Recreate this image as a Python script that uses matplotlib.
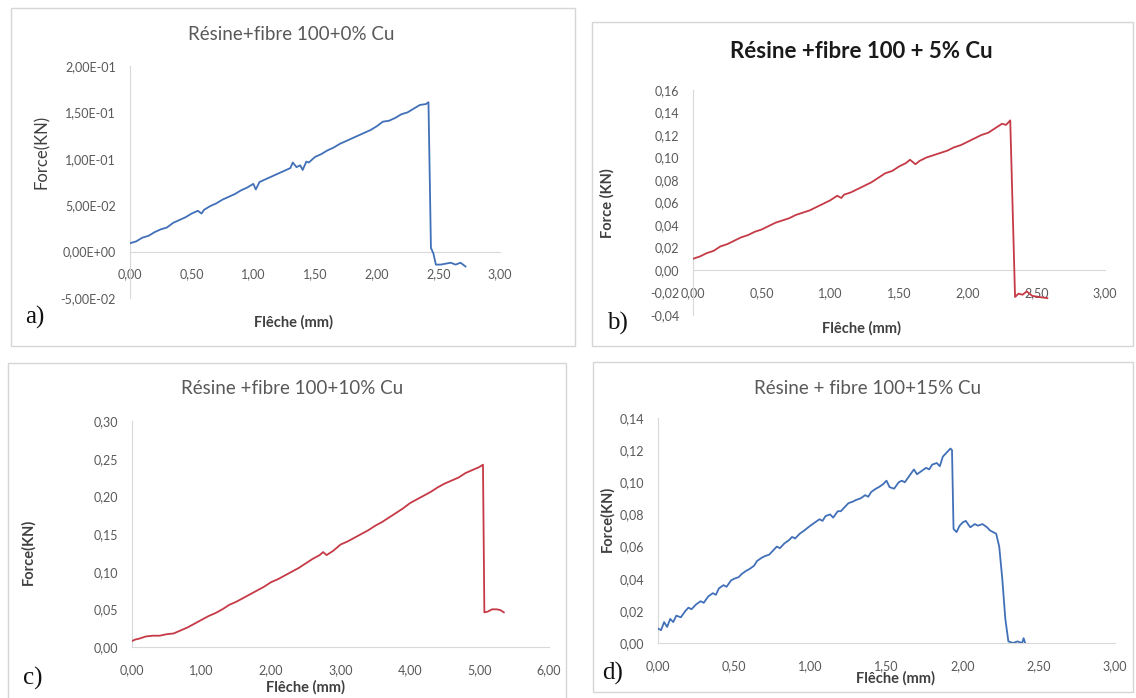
import matplotlib
matplotlib.use("Agg")
import matplotlib.pyplot as plt
from matplotlib.patches import Rectangle
from matplotlib.ticker import FuncFormatter

W, H = 1136, 698

titles = ["Résine+fibre 100+0% Cu", "Résine +fibre 100 + 5% Cu",
          "Résine +fibre 100+10% Cu", "Résine + fibre 100+15% Cu"]
ylabels = ["Force(KN)", "Force (KN)", "Force(KN)", "Force(KN)"]
letters = ["a)", "b)", "c)", "d)"]

x_a = [0.00, 0.05, 0.10, 0.15, 0.20, 0.25, 0.30, 0.35, 0.40, 0.45, 0.50, 0.55, 0.58,
       0.60, 0.65, 0.70, 0.75, 0.80, 0.85, 0.90, 0.95, 1.00, 1.02, 1.05, 1.10, 1.15,
       1.20, 1.25, 1.30, 1.32, 1.35, 1.38, 1.40, 1.43, 1.45, 1.50, 1.55, 1.60, 1.65,
       1.70, 1.75, 1.80, 1.85, 1.90, 1.95, 2.00, 2.05, 2.10, 2.15, 2.20, 2.25, 2.30,
       2.35, 2.40, 2.42, 2.44, 2.46, 2.48, 2.52, 2.56, 2.60, 2.64, 2.68, 2.72]
y_a = [0.009, 0.011, 0.015, 0.017, 0.021, 0.024, 0.026, 0.031, 0.034, 0.037, 0.041, 0.044, 0.041,
       0.045, 0.049, 0.052, 0.056, 0.059, 0.062, 0.066, 0.069, 0.073, 0.067, 0.075, 0.078, 0.081,
       0.084, 0.087, 0.090, 0.096, 0.091, 0.093, 0.088, 0.097, 0.096, 0.102, 0.105, 0.109, 0.112,
       0.116, 0.119, 0.122, 0.125, 0.128, 0.131, 0.135, 0.140, 0.141, 0.144, 0.148, 0.150, 0.154,
       0.158, 0.159, 0.161, 0.004, -0.002, -0.014, -0.014, -0.013, -0.012, -0.014, -0.012, -0.016]

x_b = [0.00, 0.05, 0.10, 0.15, 0.20, 0.25, 0.30, 0.35, 0.40, 0.45, 0.50, 0.55, 0.60, 0.65,
       0.70, 0.75, 0.80, 0.85, 0.90, 0.95, 1.00, 1.05, 1.08, 1.10, 1.15, 1.20, 1.25, 1.30,
       1.35, 1.40, 1.45, 1.50, 1.55, 1.58, 1.62, 1.65, 1.70, 1.75, 1.80, 1.85, 1.90, 1.95,
       2.00, 2.05, 2.10, 2.15, 2.20, 2.25, 2.28, 2.31, 2.345, 2.37, 2.40, 2.43, 2.47, 2.52, 2.58]
y_b = [0.010, 0.012, 0.015, 0.017, 0.021, 0.023, 0.026, 0.029, 0.031, 0.034, 0.036, 0.039, 0.042, 0.044,
       0.046, 0.049, 0.051, 0.053, 0.056, 0.059, 0.062, 0.066, 0.064, 0.067, 0.069, 0.072, 0.075, 0.078,
       0.082, 0.086, 0.088, 0.092, 0.095, 0.098, 0.094, 0.097, 0.100, 0.102, 0.104, 0.106, 0.109, 0.111,
       0.114, 0.117, 0.120, 0.122, 0.126, 0.130, 0.129, 0.133, -0.024, -0.021, -0.022, -0.019, -0.023, -0.024, -0.025]

x_c = [0.00, 0.05, 0.10, 0.20, 0.30, 0.40, 0.50, 0.60, 0.70, 0.80, 0.90, 1.00, 1.10, 1.20,
       1.30, 1.40, 1.50, 1.60, 1.70, 1.80, 1.90, 2.00, 2.10, 2.20, 2.30, 2.40, 2.50, 2.60,
       2.70, 2.75, 2.80, 2.90, 3.00, 3.10, 3.20, 3.30, 3.40, 3.50, 3.60, 3.70, 3.80, 3.90,
       4.00, 4.10, 4.20, 4.30, 4.40, 4.50, 4.60, 4.70, 4.80, 4.90, 5.00, 5.05, 5.07, 5.12,
       5.18, 5.25, 5.30, 5.35]
y_c = [0.008, 0.010, 0.011, 0.014, 0.015, 0.015, 0.017, 0.018, 0.022, 0.026, 0.031, 0.036, 0.041, 0.045,
       0.050, 0.056, 0.060, 0.065, 0.070, 0.075, 0.080, 0.086, 0.090, 0.095, 0.100, 0.105, 0.111, 0.117,
       0.122, 0.126, 0.122, 0.128, 0.136, 0.140, 0.145, 0.150, 0.155, 0.161, 0.166, 0.172, 0.178, 0.184,
       0.191, 0.196, 0.201, 0.206, 0.212, 0.217, 0.221, 0.225, 0.231, 0.235, 0.239, 0.242, 0.046, 0.047,
       0.050, 0.050, 0.049, 0.046]

x_d = [0.00, 0.02, 0.04, 0.06, 0.08, 0.10, 0.12, 0.15, 0.18, 0.20, 0.22, 0.25, 0.28, 0.30,
       0.33, 0.36, 0.38, 0.40, 0.43, 0.45, 0.48, 0.50, 0.53, 0.55, 0.58, 0.60, 0.63, 0.65,
       0.68, 0.70, 0.73, 0.76, 0.78, 0.80, 0.83, 0.86, 0.88, 0.90, 0.93, 0.96, 1.00, 1.03,
       1.06, 1.08, 1.10, 1.13, 1.15, 1.18, 1.20, 1.23, 1.25, 1.28, 1.30, 1.33, 1.36, 1.38,
       1.40, 1.43, 1.45, 1.48, 1.50, 1.52, 1.55, 1.58, 1.60, 1.62, 1.65, 1.68, 1.70, 1.73,
       1.76, 1.78, 1.80, 1.83, 1.85, 1.87, 1.90, 1.92, 1.93, 1.94, 1.96, 1.98, 2.00, 2.02,
       2.05, 2.08, 2.10, 2.13, 2.16, 2.18, 2.22, 2.24, 2.26, 2.28, 2.30, 2.33, 2.36, 2.39,
       2.40, 2.41]
y_d = [0.009, 0.008, 0.013, 0.010, 0.015, 0.013, 0.017, 0.016, 0.020, 0.022, 0.021, 0.024, 0.026, 0.025,
       0.029, 0.031, 0.030, 0.034, 0.036, 0.035, 0.039, 0.040, 0.041, 0.043, 0.045, 0.046, 0.048, 0.051,
       0.053, 0.054, 0.055, 0.058, 0.060, 0.059, 0.062, 0.064, 0.066, 0.065, 0.068, 0.070, 0.073, 0.075,
       0.077, 0.076, 0.079, 0.080, 0.078, 0.082, 0.082, 0.085, 0.087, 0.088, 0.089, 0.090, 0.092, 0.091,
       0.094, 0.096, 0.097, 0.099, 0.101, 0.097, 0.096, 0.100, 0.101, 0.100, 0.104, 0.108, 0.105, 0.107,
       0.109, 0.108, 0.111, 0.112, 0.110, 0.116, 0.119, 0.121, 0.120, 0.071, 0.069, 0.073, 0.075, 0.076,
       0.072, 0.074, 0.073, 0.074, 0.072, 0.070, 0.068, 0.060, 0.040, 0.015, 0.001, 0.000, 0.001, 0.000,
       0.003, 0.000]

xticks = [[0, 0.5, 1, 1.5, 2, 2.5, 3], [0, 0.5, 1, 1.5, 2, 2.5, 3],
          [0, 1, 2, 3, 4, 5, 6], [0, 0.5, 1, 1.5, 2, 2.5, 3]]
yticks = [[-0.05, 0, 0.05, 0.10, 0.15, 0.20],
          [-0.04, -0.02, 0, 0.02, 0.04, 0.06, 0.08, 0.10, 0.12, 0.14, 0.16],
          [0, 0.05, 0.10, 0.15, 0.20, 0.25, 0.30],
          [0, 0.02, 0.04, 0.06, 0.08, 0.10, 0.12, 0.14]]

BLUE = "#4170b8"
RED = "#c53a46"
series = [(x_a, y_a, BLUE), (x_b, y_b, RED), (x_c, y_c, RED), (x_d, y_d, BLUE)]

# ---- layout in pixels (left, right, top, bottom) ----
ax_px = [(130, 500, 66, 298), (693, 1105, 90, 315), (132, 549, 421, 647), (658, 1115, 418, 643)]
box_px = [(11, 575, 8, 346), (592, 1133, 22, 346), (8, 566, 363, 702), (593, 1133, 362, 692)]
title_px = [(291, 35), (861, 52), (292, 389), (868, 388)]
xlab_px = [(293, 322), (862, 328), (305, 687), (895, 678)]
ylab_px = [(42, 152), (607, 203), (28, 552), (607, 519)]
let_px = [(35, 317), (617, 323), (33, 678), (613, 673)]

plt.rcParams['font.family'] = ['Lato', 'DejaVu Sans']
fig = plt.figure(figsize=(W / 100, H / 100), dpi=100)
fig.patch.set_facecolor("white")


def fx(x):
    return x / W


def fy(y):
    return 1 - y / H


sci_fmt = FuncFormatter(lambda v, p: f"{v:.2E}".replace(".", ","))
dec_fmt = FuncFormatter(lambda v, p: f"{v:.2f}".replace(".", ","))

for i in range(4):
    l, r, t, b = box_px[i]
    fig.patches.append(Rectangle((fx(l), fy(b)), fx(r - l), (b - t) / H, transform=fig.transFigure,
                                 facecolor="none", edgecolor="#d6d6d6", lw=1.0, zorder=-1))

    l, r, t, b = ax_px[i]
    ax = fig.add_axes([fx(l), fy(b), fx(r - l), (b - t) / H])
    xs, ys, col = series[i]
    ax.plot(xs, ys, color=col, lw=1.3, zorder=3)
    ax.set_xlim(xticks[i][0], xticks[i][-1])
    ax.set_ylim(yticks[i][0], yticks[i][-1])
    ax.set_xticks(xticks[i])
    ax.set_yticks(yticks[i])
    ax.xaxis.set_major_formatter(dec_fmt)
    ax.yaxis.set_major_formatter(sci_fmt if i == 0 else dec_fmt)
    for s in ["top", "right"]:
        ax.spines[s].set_visible(False)
    ax.spines["left"].set_color("#d9d9d9")
    ax.spines["bottom"].set_color("#d9d9d9")
    ax.spines["bottom"].set_position(("data", 0))
    ax.tick_params(axis="both", length=0, labelsize=9, labelcolor="#595959")
    ax.tick_params(axis="x", pad=12)
    ax.tick_params(axis="y", pad=10)
    ax.patch.set_alpha(0)

    if i == 1:
        fig.text(fx(title_px[i][0]), fy(title_px[i][1]), titles[i], ha="center", va="center",
                 fontsize=16, fontweight="bold", color="#1a1a1a")
    else:
        fig.text(fx(title_px[i][0]), fy(title_px[i][1]), titles[i], ha="center", va="center",
                 fontsize=13.5, color="#595959")
    fig.text(fx(xlab_px[i][0]), fy(xlab_px[i][1]), "Flêche (mm)", ha="center", va="center",
             fontsize=10.5, fontweight="bold", color="#404040")
    fig.text(fx(ylab_px[i][0]), fy(ylab_px[i][1]), ylabels[i], ha="center", va="center",
             rotation=90, fontsize=12 if i == 0 else 10.5, fontweight="normal" if i == 0 else "bold",
             color="#404040")
    fig.text(fx(let_px[i][0]), fy(let_px[i][1]), letters[i], ha="center", va="center",
             fontsize=18, family="Liberation Serif", color="#111111")

fig.savefig("out.png", dpi=100, facecolor="white")
